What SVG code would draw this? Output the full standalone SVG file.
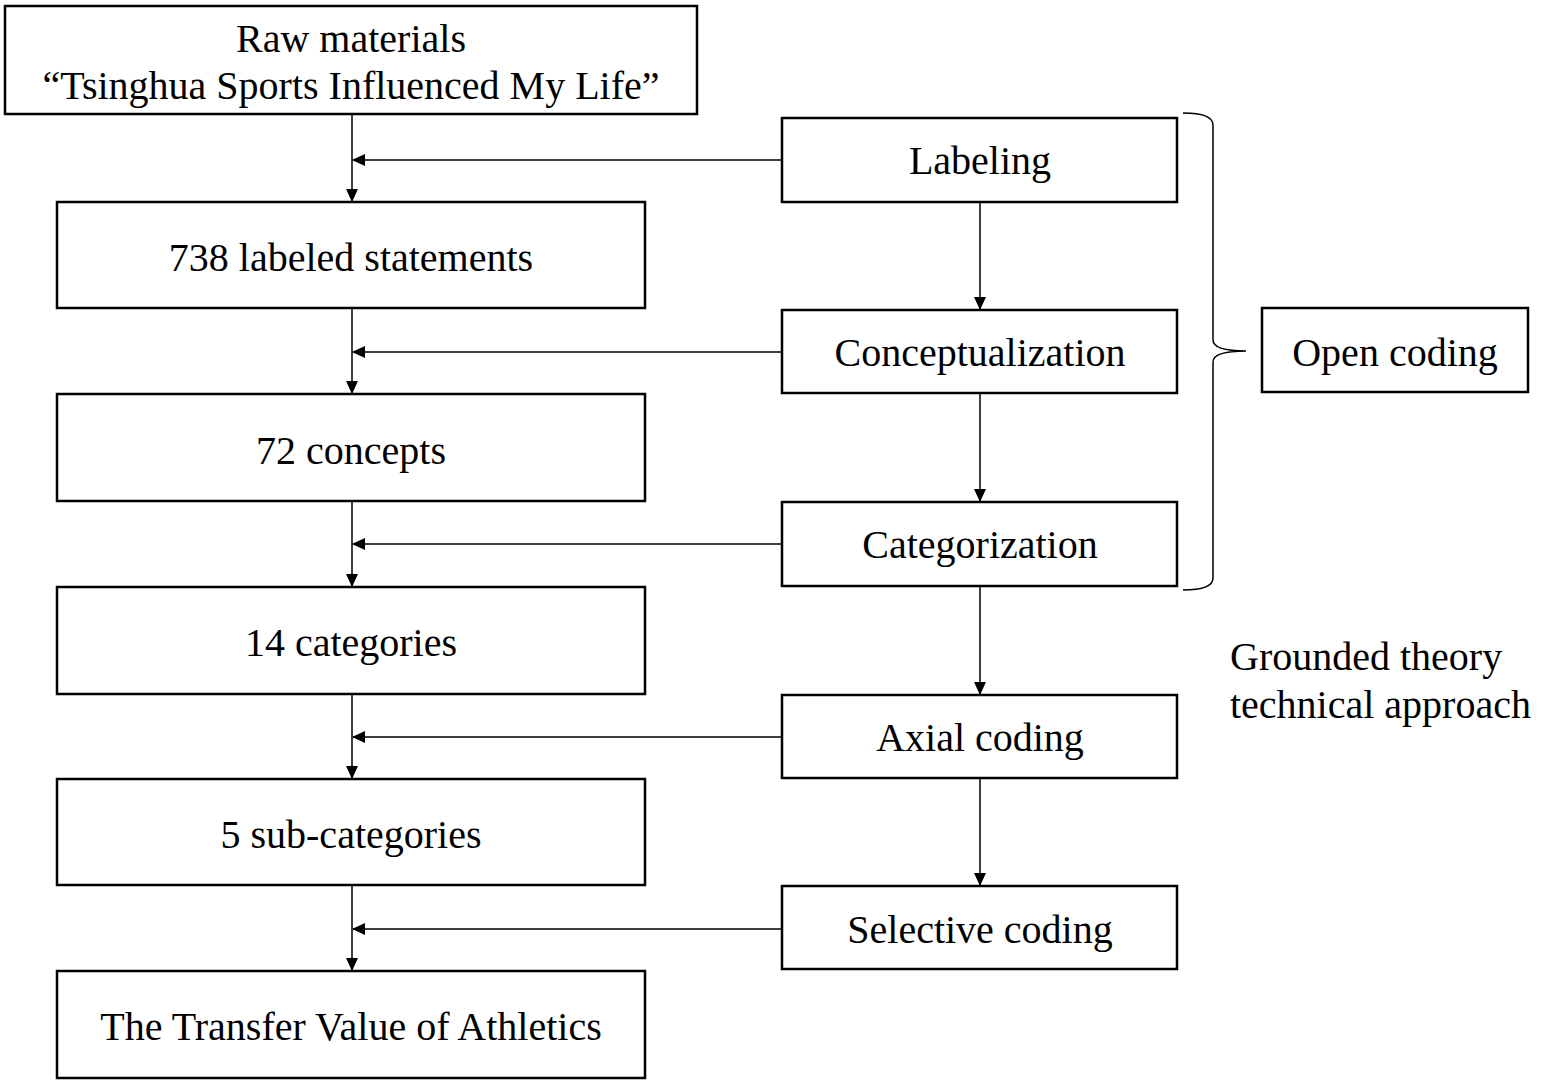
<svg xmlns="http://www.w3.org/2000/svg" width="1541" height="1086" viewBox="0 0 1541 1086">
<style>
.box{fill:#fff;stroke:#000;stroke-width:2.5}
.t{font-family:"Liberation Serif","Times New Roman",serif;font-size:40px;fill:#000;text-anchor:middle}
.tl{font-family:"Liberation Serif","Times New Roman",serif;font-size:40px;fill:#000}
.c{stroke:#000;stroke-width:1.5;fill:none}
</style>
<defs>
<marker id="ah" markerWidth="13" markerHeight="12" refX="12" refY="6" orient="auto" markerUnits="userSpaceOnUse">
<path d="M0,0 L13,6 L0,12 Z" fill="#000"/>
</marker>
</defs>
<rect width="1541" height="1086" fill="#fff"/>
<g id="connectors">
<line class="c" x1="352" y1="114" x2="352" y2="201" marker-end="url(#ah)"/>
<line class="c" x1="352" y1="308" x2="352" y2="393" marker-end="url(#ah)"/>
<line class="c" x1="352" y1="501" x2="352" y2="586" marker-end="url(#ah)"/>
<line class="c" x1="352" y1="694" x2="352" y2="778" marker-end="url(#ah)"/>
<line class="c" x1="352" y1="885" x2="352" y2="970" marker-end="url(#ah)"/>
<line class="c" x1="782" y1="160" x2="353" y2="160" marker-end="url(#ah)"/>
<line class="c" x1="782" y1="352" x2="353" y2="352" marker-end="url(#ah)"/>
<line class="c" x1="782" y1="544" x2="353" y2="544" marker-end="url(#ah)"/>
<line class="c" x1="782" y1="737" x2="353" y2="737" marker-end="url(#ah)"/>
<line class="c" x1="782" y1="929" x2="353" y2="929" marker-end="url(#ah)"/>
<line class="c" x1="980" y1="202" x2="980" y2="309" marker-end="url(#ah)"/>
<line class="c" x1="980" y1="393" x2="980" y2="501" marker-end="url(#ah)"/>
<line class="c" x1="980" y1="586" x2="980" y2="694" marker-end="url(#ah)"/>
<line class="c" x1="980" y1="778" x2="980" y2="885" marker-end="url(#ah)"/>
<path class="c" d="M1183,113 Q1213,113 1213,125 L1213,340 Q1213,351 1246,351 Q1213,351 1213,362 L1213,578 Q1213,590 1183,590"/>
</g>
<g id="raw"><rect class="box" x="5" y="6" width="692" height="108"/>
<text class="t" x="351" y="52">Raw materials</text>
<text class="t" x="351" y="99">“Tsinghua Sports Influenced My Life”</text></g>
<g id="statements"><rect class="box" x="57" y="202" width="588" height="106"/><text class="t" x="351" y="271">738 labeled statements</text></g>
<g id="concepts"><rect class="box" x="57" y="394" width="588" height="107"/><text class="t" x="351" y="464">72 concepts</text></g>
<g id="categories"><rect class="box" x="57" y="587" width="588" height="107"/><text class="t" x="351" y="656">14 categories</text></g>
<g id="subcategories"><rect class="box" x="57" y="779" width="588" height="106"/><text class="t" x="351" y="848">5 sub-categories</text></g>
<g id="transfer"><rect class="box" x="57" y="971" width="588" height="107"/><text class="t" x="351" y="1040">The Transfer Value of Athletics</text></g>
<g id="labeling"><rect class="box" x="782" y="118" width="395" height="84"/><text class="t" x="980" y="174">Labeling</text></g>
<g id="conceptualization"><rect class="box" x="782" y="310" width="395" height="83"/><text class="t" x="980" y="366">Conceptualization</text></g>
<g id="categorization"><rect class="box" x="782" y="502" width="395" height="84"/><text class="t" x="980" y="558">Categorization</text></g>
<g id="axial"><rect class="box" x="782" y="695" width="395" height="83"/><text class="t" x="980" y="751">Axial coding</text></g>
<g id="selective"><rect class="box" x="782" y="886" width="395" height="83"/><text class="t" x="980" y="943">Selective coding</text></g>
<g id="open"><rect class="box" x="1262" y="308" width="266" height="84"/><text class="t" x="1395" y="366">Open coding</text></g>
<g id="grounded"><text class="tl" x="1230" y="670">Grounded theory</text><text class="tl" x="1230" y="718">technical approach</text></g>
</svg>
